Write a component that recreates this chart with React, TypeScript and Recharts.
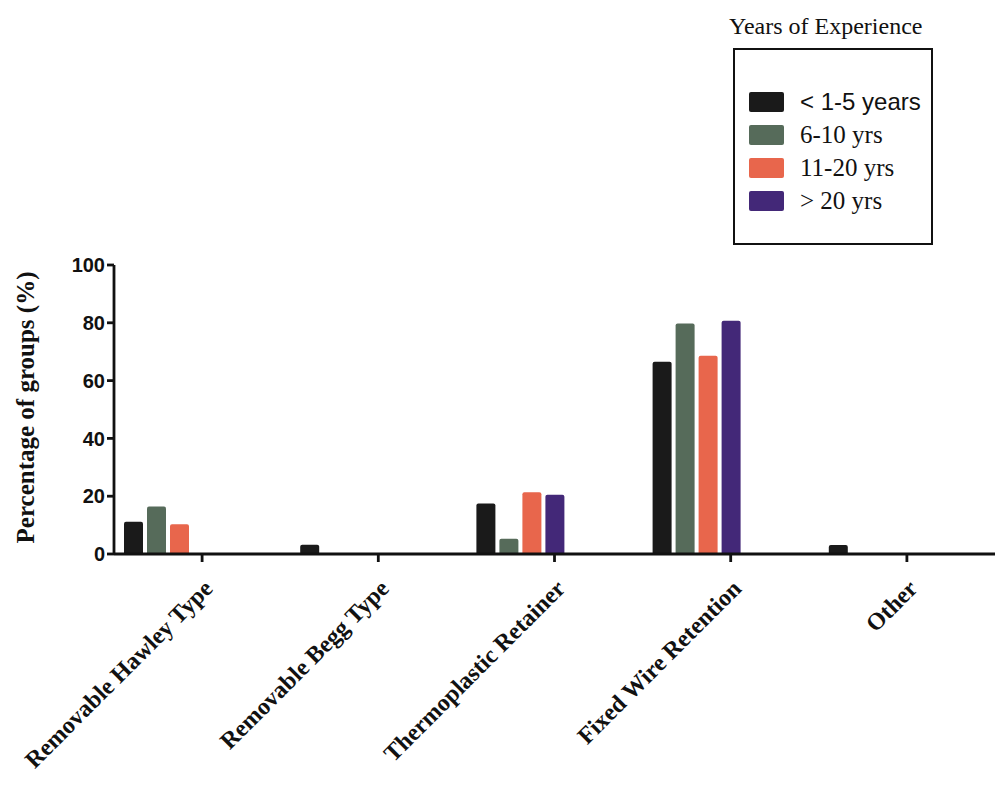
import React from "react"
import { BarChart, Bar, XAxis, YAxis, Rectangle, Label } from "recharts"

const categories = [
  "Removable Hawley Type",
  "Removable Begg Type",
  "Thermoplastic Retainer",
  "Fixed Wire Retention",
  "Other",
]
const upTo5 = [11.2, 3.2, 17.5, 66.5, 3.1]
const sixTo10 = [16.4, 0, 5.3, 79.8, 0]
const elevenTo20 = [10.3, 0, 21.4, 68.6, 0]
const over20 = [0, 0, 20.5, 80.7, 0]
const yTicks = [0, 20, 40, 60, 80, 100]

const series = [
  { key: "upTo5", name: "< 1-5 years", color: "#1a1a1a", values: upTo5, sans: true },
  { key: "sixTo10", name: "6-10 yrs", color: "#566b5a", values: sixTo10, sans: false },
  { key: "elevenTo20", name: "11-20 yrs", color: "#e8664c", values: elevenTo20, sans: false },
  { key: "over20", name: "> 20 yrs", color: "#432878", values: over20, sans: false },
]

const data = categories.map((name, i) => {
  const row: Record<string, string | number> = { name }
  series.forEach((s) => (row[s.key] = s.values[i]))
  return row
})

const SERIF = "'Liberation Serif', 'Times New Roman', serif"
const SANS = "'Liberation Sans', Arial, sans-serif"

// Prism draws the group left of the tick, so shift bars a bit
const BAR_SHIFT = 34

const ShiftedBar = (props: any) => (
  <Rectangle {...props} x={props.x - BAR_SHIFT} radius={[2, 2, 0, 0]} />
)

const XTick = ({ x, y, payload }: any) => (
  <g transform={`translate(${x + 12},${y + 26})`}>
    <text
      textAnchor="end"
      transform="rotate(-45)"
      fontFamily={SERIF}
      fontWeight="bold"
      fontSize={24}
      fill="#111"
    >
      {payload.value}
    </text>
  </g>
)

// legend drawn as plain html so it doesn't eat plot space
const LegendBox = () => (
  <div
    style={{
      position: "absolute",
      left: 728,
      top: 12,
      fontFamily: SERIF,
      color: "#111",
    }}
  >
    <div style={{ fontSize: 24, lineHeight: "28px", marginLeft: 1 }}>Years of Experience</div>
    <div
      style={{
        marginTop: 8,
        marginLeft: 5,
        width: 196,
        height: 193,
        border: "2px solid #111",
      }}
    >
      <div style={{ height: 35 }} />
      {series.map((s) => (
        <div key={s.key} style={{ display: "flex", alignItems: "center", height: 33 }}>
          <div
            style={{
              width: 35,
              height: 20,
              background: s.color,
              borderRadius: 2,
              marginLeft: 14,
              marginRight: 16,
            }}
          />
          <span style={{ fontFamily: s.sans ? SANS : SERIF, fontSize: s.sans ? 24 : 25 }}>
            {s.name}
          </span>
        </div>
      ))}
    </div>
  </div>
)

export default function App() {
  return (
    <div style={{ position: "absolute", left: 0, top: 0, width: 1005, height: 799, background: "#fff" }}>
      <BarChart
        width={1005}
        height={799}
        data={data}
        margin={{ top: 265, right: 10, bottom: 0, left: 0 }}
        barSize={19}
        barGap={4}
      >
        <XAxis
          dataKey="name"
          height={245}
          interval={0}
          axisLine={{ stroke: "#111", strokeWidth: 2.8 }}
          tickLine={{ stroke: "#111", strokeWidth: 2.8 }}
          tickSize={8}
          tick={<XTick />}
        />
        <YAxis
          width={114}
          domain={[0, 100]}
          ticks={yTicks}
          interval={0}
          axisLine={{ stroke: "#111", strokeWidth: 2.8 }}
          tickLine={{ stroke: "#111", strokeWidth: 2.8 }}
          tickSize={7}
          tickMargin={2}
          tick={{ fontFamily: SANS, fontWeight: "bold", fontSize: 20, fill: "#111" }}
        >
          <Label
            content={({ viewBox }: any) => {
              const cy = viewBox.y + viewBox.height / 2 - 2
              return (
                <text
                  x={34}
                  y={cy}
                  transform={`rotate(-90, 34, ${cy})`}
                  textAnchor="middle"
                  fontFamily={SERIF}
                  fontWeight="bold"
                  fontSize={25}
                  fill="#111"
                >
                  Percentage of groups (%)
                </text>
              )
            }}
          />
        </YAxis>
        {series.map((s) => (
          <Bar
            key={s.key}
            dataKey={s.key}
            name={s.name}
            fill={s.color}
            shape={ShiftedBar}
            isAnimationActive={false}
          />
        ))}
      </BarChart>
      <LegendBox />
    </div>
  )
}
